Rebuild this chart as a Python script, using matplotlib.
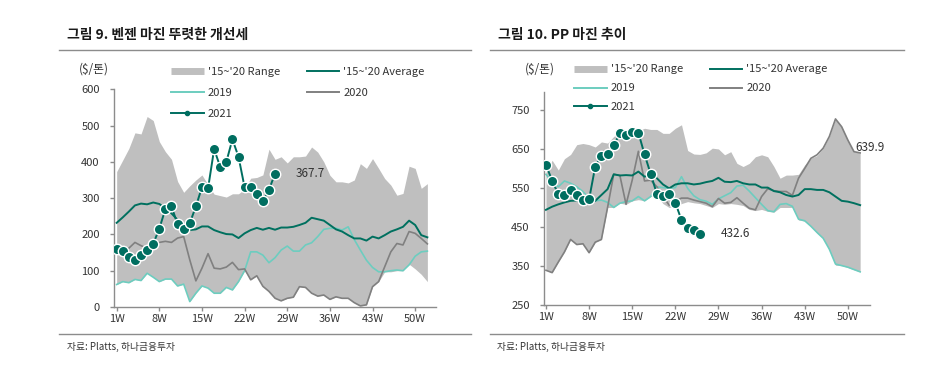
import numpy as np
import matplotlib
matplotlib.use("Agg")
import matplotlib.pyplot as plt
from matplotlib.lines import Line2D

plt.rcParams["font.family"] = ["Noto Sans CJK KR", "DejaVu Sans"]

# ---- data: 벤젠 마진 ($/톤), weekly ----
bz_high = [373, 405, 437, 480, 477, 525, 514, 456, 428, 407,
           346, 316, 334, 350, 364, 337, 311, 307, 303, 312,
           312, 325, 355, 357, 364, 435, 407, 414, 397, 414,
           414, 416, 441, 427, 400, 363, 345, 345, 342, 350,
           395, 382, 409, 382, 354, 336, 308, 313, 388, 382,
           327, 340]
bz_low = [62, 70, 67, 76, 73, 93, 82, 70, 77, 77,
          58, 63, 15, 38, 58, 52, 38, 38, 54, 47,
          70, 100, 75, 86, 57, 43, 24, 17, 24, 27,
          56, 54, 38, 30, 33, 21, 28, 24, 24, 12,
          3, 6, 56, 70, 97, 97, 100, 100, 118, 105,
          90, 70]
bz_avg = [232, 247, 263, 280, 285, 283, 288, 284, 272, 258,
          240, 224, 212, 214, 222, 222, 212, 206, 201, 200,
          190, 203, 212, 218, 213, 218, 213, 219, 219, 221,
          226, 232, 246, 242, 238, 226, 214, 208, 198, 189,
          189, 183, 194, 189, 198, 208, 214, 221, 238, 226,
          198, 192]
bz_2019 = [62, 70, 67, 76, 73, 93, 82, 70, 77, 77,
           58, 63, 15, 38, 58, 52, 38, 38, 54, 47,
           70, 100, 152, 152, 143, 122, 136, 157, 168, 154,
           154, 171, 177, 194, 214, 217, 217, 212, 221, 186,
           157, 129, 109, 97, 97, 100, 102, 100, 116, 140,
           152, 154]
bz_2020 = [157, 153, 162, 178, 169, 162, 174, 178, 181, 178,
           190, 194, 130, 72, 107, 147, 107, 105, 110, 123,
           103, 105, 75, 86, 57, 43, 24, 17, 24, 27,
           56, 54, 38, 30, 33, 21, 28, 24, 24, 12,
           3, 6, 56, 70, 111, 152, 175, 171, 208, 203,
           189, 174]
bz_2021 = [160, 153, 139, 129, 142, 156, 174, 216, 270, 277,
           228, 216, 231, 277, 330, 327, 435, 386, 400, 462,
           414, 330, 330, 311, 291, 323, 367.7]

# ---- data: PP 마진 ($/톤), weekly ----
pp_high = [590, 621, 596, 625, 636, 661, 664, 661, 655, 668,
           665, 682, 692, 692, 690, 697, 703, 700, 700, 690,
           690, 703, 712, 646, 637, 636, 640, 652, 650, 635,
           643, 613, 605, 613, 630, 635, 630, 605, 575, 583,
           583, 585, 609, 626, 633, 652, 682, 727, 707, 673,
           643, 640]
pp_low = [339, 333, 360, 386, 418, 405, 407, 384, 411, 418,
          500, 500, 511, 508, 517, 520, 517, 528, 530, 510,
          500, 505, 510, 515, 512, 510, 505, 500, 510, 508,
          510, 508, 505, 495, 492, 495, 490, 488, 500, 500,
          500, 468, 465, 451, 434, 421, 391, 352, 351, 346,
          340, 335]
pp_avg = [494, 502, 508, 513, 517, 518, 518, 519, 517, 532,
          547, 585, 582, 583, 582, 592, 579, 583, 575, 559,
          549, 559, 562, 562, 559, 561, 565, 568, 576, 566,
          565, 568, 562, 559, 559, 551, 551, 542, 539, 532,
          528, 532, 547, 547, 545, 545, 539, 528, 517, 515,
          511, 506]
pp_2019 = [585, 565, 553, 568, 562, 553, 541, 524, 517, 519,
           513, 500, 511, 515, 517, 528, 517, 528, 553, 551,
           549, 551, 579, 549, 530, 520, 516, 508, 522, 530,
           538, 555, 557, 542, 525, 508, 492, 489, 508, 510,
           503, 470, 466, 452, 436, 421, 393, 355, 351, 347,
           341, 335]
pp_2020 = [339, 333, 360, 386, 418, 405, 407, 384, 411, 418,
           500, 585, 582, 508, 570, 644, 568, 570, 553, 528,
           506, 517, 524, 524, 519, 515, 511, 502, 523, 511,
           513, 525, 511, 498, 494, 528, 548, 543, 541, 541,
           531, 575, 600, 626, 635, 652, 682, 727, 707, 673,
           643, 639.9]
pp_2021 = [609, 569, 534, 532, 544, 532, 518, 521, 605, 633,
           637, 659, 690, 685, 694, 692, 636, 586, 535, 529,
           535, 512, 468, 448, 441, 432.6]

tick_weeks = [1, 8, 15, 22, 29, 36, 43, 50]
tick_labels = ["1W", "8W", "15W", "22W", "29W", "36W", "43W", "50W"]

RANGE_C = "#bfbfbf"
AVG_C = "#00705f"
C19 = "#6dcdbf"
C20 = "#808080"
C21 = "#006e60"
AX_C = "#8c8c8c"
TXT_C = "#333333"


def draw_panel(ax, high, low, avg, y19, y20, y21, ylim, yticks, xlim):
    weeks = np.arange(1, len(high) + 1)
    ax.fill_between(weeks, low, high, color=RANGE_C, lw=0, zorder=1)
    ax.plot(weeks, y19, color=C19, lw=1.2, zorder=2)
    ax.plot(weeks, y20, color=C20, lw=1.2, zorder=2)
    ax.plot(weeks, avg, color=AVG_C, lw=1.4, zorder=3)
    w21 = np.arange(1, len(y21) + 1)
    ax.plot(w21, y21, color=C21, lw=1.4, marker="o", ms=7.5, mfc=C21,
            mec="white", mew=1.0, zorder=4)
    ax.set_xlim(*xlim)
    ax.set_ylim(*ylim)
    ax.set_yticks(yticks)
    ax.set_xticks(tick_weeks)
    ax.set_xticklabels(tick_labels)
    for s in ["top", "right"]:
        ax.spines[s].set_visible(False)
    for s in ["left", "bottom"]:
        ax.spines[s].set_color(AX_C)
        ax.spines[s].set_linewidth(1.0)
    ax.tick_params(axis="both", colors=AX_C, labelcolor=TXT_C, labelsize=8,
                   length=3, width=1.0, direction="out")
    ax.tick_params(axis="y", pad=7)
    ax.tick_params(axis="x", pad=2)
    ax.set_facecolor("none")


fig = plt.figure(figsize=(9.42, 3.67), dpi=100)
W, H = 942.0, 367.0

ax1 = fig.add_axes([113.5 / W, 1 - 307 / H, 323 / W, (307 - 89.3) / H])
draw_panel(ax1, bz_high, bz_low, bz_avg, bz_2019, bz_2020, bz_2021,
           (0, 600), [0, 100, 200, 300, 400, 500, 600], (0.48, 53.5))
ax1.text(30.4, bz_2021[-1], "367.7", fontsize=8.5, color=TXT_C,
         ha="left", va="center")

ax2 = fig.add_axes([543.5 / W, 1 - 305 / H, 326.5 / W, 213 / H])
draw_panel(ax2, pp_high, pp_low, pp_avg, pp_2019, pp_2020, pp_2021,
           (250, 796), [250, 350, 450, 550, 650, 750], (0.6, 53.6))
ax2.text(29.3, pp_2021[-1], "432.6", fontsize=8.5, color=TXT_C,
         ha="left", va="center")
ax2.text(51.3, pp_2020[-1] + 13, "639.9", fontsize=8.5, color=TXT_C,
         ha="left", va="center")

# legends
def legend_handles():
    return [Line2D([], [], color=RANGE_C, lw=5, solid_capstyle="butt"),
            Line2D([], [], color=C19, lw=1.4),
            Line2D([], [], color=C21, lw=1.4, marker="o", ms=3),
            Line2D([], [], color=AVG_C, lw=1.4),
            Line2D([], [], color=C20, lw=1.4)]


labels = ["'15~'20 Range", "2019", "2021", "'15~'20 Average", "2020"]
for x0, y0, sp in [(171, 67, 1.0), (574, 64.5, 0.8)]:
    fig.legend(legend_handles(), labels, ncol=2, loc="upper left",
               bbox_to_anchor=(x0 / W, 1 - y0 / H), frameon=False,
               fontsize=8, handlelength=2.95, handletextpad=0.35,
               columnspacing=2.4, labelspacing=sp, borderpad=0,
               borderaxespad=0, labelcolor=TXT_C)

# titles, units, rules, sources
fig.text(67 / W, 1 - 35 / H, "그림 9. 벤젠 마진 뚜렷한 개선세", fontsize=10,
         fontweight="bold", color="#1a1a1a", ha="left", va="center")
fig.text(498 / W, 1 - 35 / H, "그림 10. PP 마진 추이", fontsize=10,
         fontweight="bold", color="#1a1a1a", ha="left", va="center")
fig.text(79 / W, 1 - 69 / H, "($/톤)", fontsize=8.5, color=TXT_C,
         ha="left", va="center")
fig.text(525 / W, 1 - 69 / H, "($/톤)", fontsize=8.5, color=TXT_C,
         ha="left", va="center")
for xa, xb in [(59, 471), (490, 904)]:
    fig.add_artist(Line2D([xa / W, xb / W], [1 - 50 / H, 1 - 50 / H],
                          color="#8c8c8c", lw=1.0))
    fig.add_artist(Line2D([xa / W, xb / W], [1 - 334 / H, 1 - 334 / H],
                          color="#8c8c8c", lw=1.0))
fig.text(67 / W, 1 - 347 / H, "자료: Platts, 하나금융투자", fontsize=7,
         color=TXT_C, ha="left", va="center")
fig.text(497 / W, 1 - 347 / H, "자료: Platts, 하나금융투자", fontsize=7,
         color=TXT_C, ha="left", va="center")

fig.savefig("out.png", dpi=100, facecolor="white")
